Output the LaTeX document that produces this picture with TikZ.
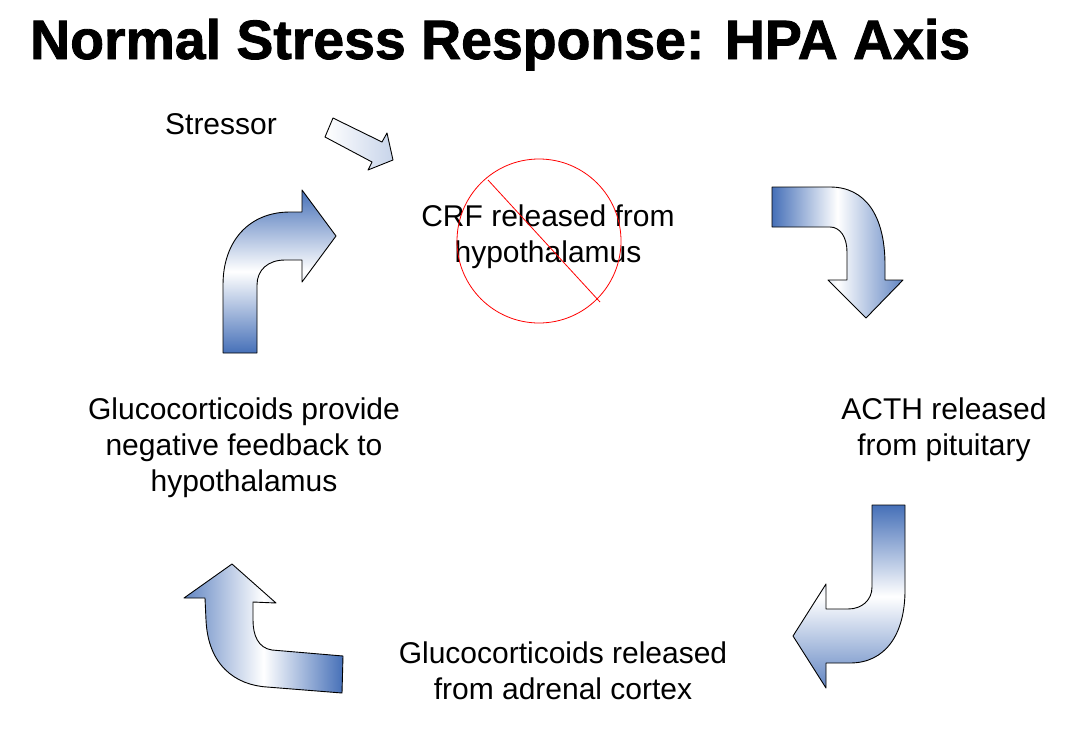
\documentclass[tikz,border=0pt]{standalone}
\usepackage{fontspec}
\setmainfont{Liberation Sans}
\newfontfamily\titlefont[FakeBold=1.5]{Liberation Sans Bold}
\definecolor{hpablue}{RGB}{70,112,184}
\tikzset{
  bigarrow/.style={draw=black,line width=0.9pt,line join=round},
  caption/.style={align=center,inner sep=0pt,font=\fontsize{30}{36}\selectfont}
}
\begin{document}
\begin{tikzpicture}[x=1pt,y=-1pt]
                \useasboundingbox (0,0) rectangle (1086,744);
                \node[anchor=base west,inner sep=0pt,font=\titlefont\fontsize{55.4}{60}\selectfont] (title) at (30,59) {Normal Stress Response: HPA Axis};
                \node[caption,anchor=base] (stressor) at (221,134) {Stressor};
                \node[caption] (crf) at (548,237) {CRF released from\\hypothalamus};
                \node[caption] (acth) at (944,430) {ACTH released\\from pituitary};
                \node[caption] (adrenal) at (563,671) {Glucocorticoids released\\from adrenal cortex};
                \node[caption] (feedback) at (244,448) {Glucocorticoids provide\\negative feedback to\\hypothalamus};
                \draw[red,line width=0.8pt] (539,241) circle (82);
                \draw[red,line width=0.8pt] (488,180) -- (600,302);
                \shade[bigarrow,left color=white,right color=hpablue!30] (333,118) -- (382,142) -- (387,133) -- (393,160) -- (368,170) -- (372,162) -- (325,137) -- cycle;
                \shade[bigarrow,left color=hpablue,right color=hpablue!85,middle color=white] (772,187) -- (830,187) .. controls (865,187) and (885,215) .. (885,265) -- (885,280) -- (903,280) -- (866,318) -- (828,280) -- (847,280) -- (847,252) .. controls (847,237) and (840,227) .. (830,227) -- (772,227) -- cycle;
                \shade[bigarrow,top color=hpablue,bottom color=hpablue!85,middle color=white] (872,505) -- (905,505) -- (905,590) .. controls (905,635) and (885,663) .. (850,663) -- (826,663) -- (826,688) -- (793,636) -- (826,584) -- (826,609) -- (848,609) .. controls (862,609) and (872,600) .. (872,587) -- cycle;
                \shade[bigarrow,left color=hpablue!85,right color=hpablue,middle color=white] (342,693) -- (343,656) -- (272,650) .. controls (258,648) and (253,635) .. (253,620) -- (253,602) -- (276,603) -- (232,564) -- (184,598) -- (205,598) -- (206,620) .. controls (208,665) and (235,685) .. (267,687) -- cycle;
                \shade[bigarrow,top color=hpablue,bottom color=hpablue,middle color=white] (223,353) -- (223,285) .. controls (223,240) and (250,212) .. (290,212) -- (302,212) -- (302,190) -- (336,236) -- (302,282) -- (302,260) -- (285,260) .. controls (268,260) and (257,270) .. (257,285) -- (257,353) -- cycle;
            \end{tikzpicture}
\end{document}
